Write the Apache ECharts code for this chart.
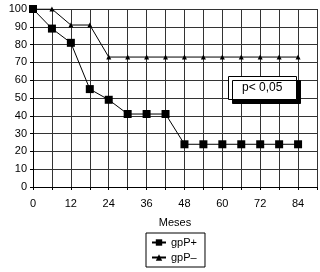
<!DOCTYPE html>
<html>
<head>
<meta charset="utf-8">
<script src="https://cdn.jsdelivr.net/npm/echarts@6/dist/echarts.min.js"></script>
<style>
  html, body { margin: 0; padding: 0; background: #fff; }
  #chart { width: 320px; height: 272px; }
</style>
</head>
<body>
<div id="chart"></div>
<script>
// meses de seguimiento
var months = [0, 6, 12, 18, 24, 30, 36, 42, 48, 54, 60, 66, 72, 78, 84];
// gpP+ (cuadrados)
var gpPplus = [100, 89, 81, 55, 49, 41, 41, 41, 24, 24, 24, 24, 24, 24, 24];
// gpP- (triangulos)
var gpPminus = [100, 100, 91, 91, 73, 73, 73, 73, 73, 73, 73, 73, 73, 73, 73];
var xLabels = [0, 12, 24, 36, 48, 60, 72, 84];
var pText = 'p< 0,05';

var font = 'Liberation Sans, Arial, sans-serif';

function pairs(ys) {
    return months.map(function (m, i) { return [m, ys[i]]; });
}

var chart = echarts.init(document.getElementById('chart'));
chart.setOption({
    animation: false,
    backgroundColor: '#fff',
    textStyle: { fontFamily: font, color: '#000' },
    title: {
        text: pText,
        left: 228,
        top: 76,
        padding: [6, 14, 6, 14],
        backgroundColor: '#fff',
        borderColor: '#000',
        borderWidth: 1,
        shadowColor: '#000',
        shadowOffsetX: 4,
        shadowOffsetY: 4,
        shadowBlur: 0,
        textStyle: { fontFamily: font, fontSize: 12, fontWeight: 'normal', color: '#000' }
    },
    grid: { left: 33, right: 3, top: 9, bottom: 85, containLabel: false },
    legend: {
        orient: 'vertical',
        left: 146,
        top: 233,
        padding: [4, 8, 4, 5],
        itemGap: 4,
        itemWidth: 14,
        itemHeight: 8,
        borderColor: '#000',
        borderWidth: 1,
        textStyle: { fontFamily: font, fontSize: 11, color: '#000' },
        data: ['gpP+', 'gpP–']
    },
    xAxis: {
        type: 'value',
        min: 0,
        max: 90,
        interval: 6,
        name: 'Meses',
        nameLocation: 'middle',
        nameGap: 30,
        nameTextStyle: { fontFamily: font, fontSize: 11, color: '#000' },
        axisLine: { lineStyle: { color: '#000', width: 1 } },
        axisTick: { show: true, length: 3, lineStyle: { color: '#000' } },
        axisLabel: {
            margin: 11,
            fontSize: 11,
            color: '#000',
            formatter: function (v) { return xLabels.indexOf(v) >= 0 ? String(v) : ''; }
        },
        splitLine: { show: true, lineStyle: { color: '#333', width: 1 } }
    },
    yAxis: {
        type: 'value',
        min: 0,
        max: 100,
        interval: 10,
        axisLine: { show: true, lineStyle: { color: '#000', width: 1 } },
        axisTick: { show: true, length: 3, lineStyle: { color: '#000' } },
        axisLabel: { margin: 6, fontSize: 11, color: '#000' },
        splitLine: { show: true, lineStyle: { color: '#333', width: 1 } }
    },
    series: [{
        name: 'gpP+',
        type: 'line',
        data: pairs(gpPplus),
        symbol: 'rect',
        symbolSize: 8,
        lineStyle: { color: '#000', width: 1 },
        itemStyle: { color: '#000' }
    }, {
        name: 'gpP–',
        type: 'line',
        data: pairs(gpPminus),
        symbol: 'triangle',
        symbolSize: 5,
        lineStyle: { color: '#000', width: 1 },
        itemStyle: { color: '#000' }
    }]
});
</script>
</body>
</html>
